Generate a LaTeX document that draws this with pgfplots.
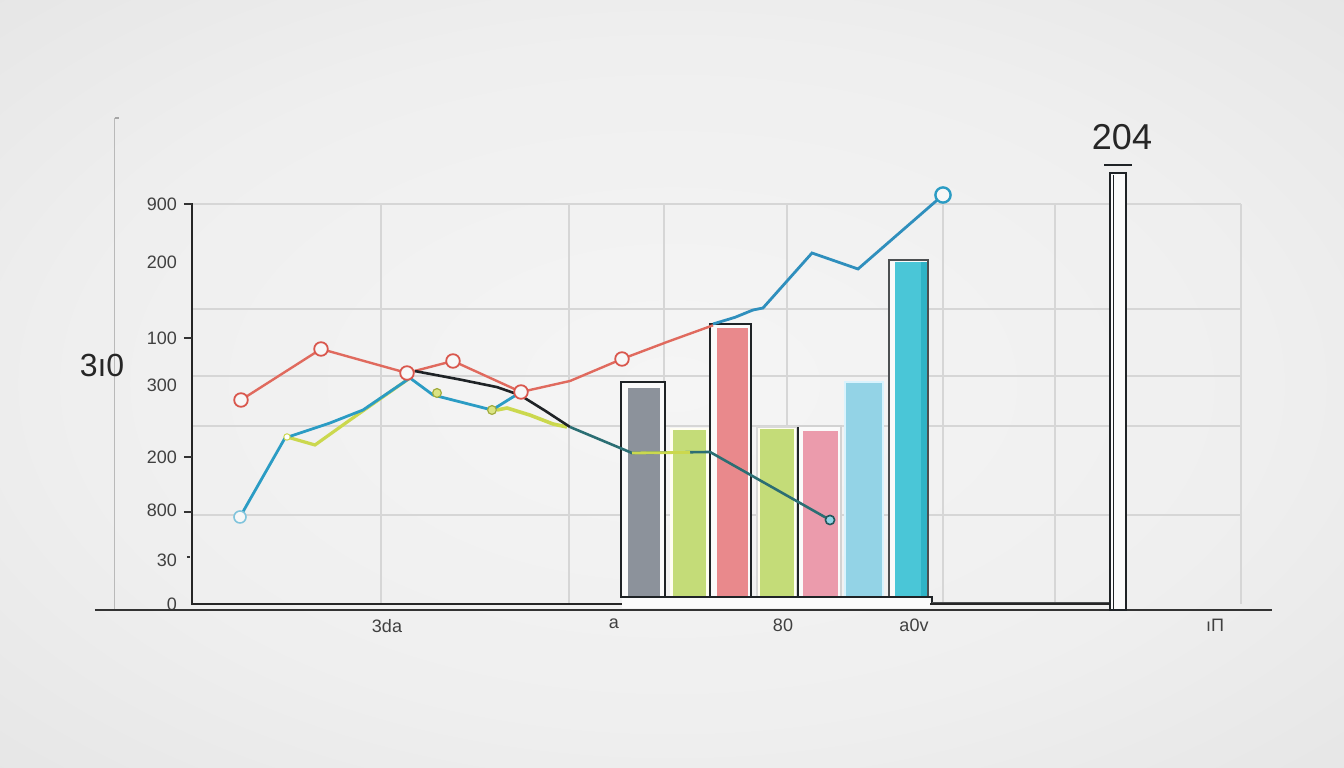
\documentclass[border=0pt]{standalone}
\usepackage{pgfplots}
\pgfplotsset{compat=1.18}
\usepackage{fontspec}
\setmainfont{Liberation Sans}
\definecolor{bgin}{HTML}{F5F5F5}
\definecolor{bgmid}{HTML}{EFEFEF}
\definecolor{bgout}{HTML}{DDDDDD}
\definecolor{bgcorner}{HTML}{D0D0D0}
\definecolor{gridc}{HTML}{D6D6D6}
\definecolor{redl}{HTML}{E06A5E}
\definecolor{redm}{HTML}{D9574D}
\definecolor{bluel}{HTML}{2B9CC4}
\definecolor{blueu}{HTML}{2F8FBD}
\definecolor{yell}{HTML}{CBD84E}
\definecolor{tealdk}{HTML}{2B6E73}
\definecolor{blk}{HTML}{1F2326}
\definecolor{barGray}{HTML}{8C929B}
\definecolor{barGreen}{HTML}{C4DC78}
\definecolor{barRed}{HTML}{E9898C}
\definecolor{barPink}{HTML}{EB9BAC}
\definecolor{barLblue}{HTML}{93D3E6}
\definecolor{barCyan}{HTML}{4AC6D7}
\definecolor{barCyanDk}{HTML}{2FB3C6}
\pgfdeclareradialshading{vign}{\pgfpoint{0bp}{0bp}}{color(0bp)=(bgin); color(22bp)=(bgmid); color(50bp)=(bgout); color(71bp)=(bgcorner)}
\begin{document}
\begin{tikzpicture}
\begin{axis}[
  set layers,
  scale only axis, width=524pt, height=200pt,
  xmin=192, xmax=1240, ymin=0, ymax=900,
  clip=false,
  axis line style={draw=none},
  xtick={387,614,783,914,1215},
  xticklabels={3da,a,80,a0v,ıΠ},
  ytick={0,99,211.5,330.75,492.75,598.5,769.5,900},
  yticklabels={0,30,800,200,300,100,200,900},
  tick align=outside, ytick pos=left, xtick pos=bottom,
  tick style={draw=none},
  major tick length=4pt,
  ticklabel style={font=\fontsize{9}{10}\selectfont, text=black!75},
  /pgf/number format/assume math mode=true,
]
% background
\begin{pgfonlayer}{axis background}
\shade[shading=vign] (axis cs:0,-369) rectangle (axis cs:1344,1359);
\end{pgfonlayer}
% faint left line
\addplot[gray!55, line width=0.5pt] coordinates {(115,1093.5) (115,-13.5)};
\addplot[gray!70, line width=0.6pt] coordinates {(115,1093.5) (119,1093.5)};
% grid
\addplot[gridc, line width=0.6pt] coordinates {(192,900) (1241,900)};
\addplot[gridc, line width=0.6pt] coordinates {(192,663.75) (1241,663.75)};
\addplot[gridc, line width=0.6pt] coordinates {(192,513) (1241,513)};
\addplot[gridc, line width=0.6pt] coordinates {(192,400.5) (1241,400.5)};
\addplot[gridc, line width=0.6pt] coordinates {(192,200.25) (1241,200.25)};
\addplot[gridc, line width=0.6pt] coordinates {(381,0) (381,900)};
\addplot[gridc, line width=0.6pt] coordinates {(569,0) (569,900)};
\addplot[gridc, line width=0.6pt] coordinates {(664,0) (664,900)};
\addplot[gridc, line width=0.6pt] coordinates {(787,0) (787,900)};
\addplot[gridc, line width=0.6pt] coordinates {(943,0) (943,900)};
\addplot[gridc, line width=0.6pt] coordinates {(1055,0) (1055,900)};
\addplot[gridc, line width=0.6pt] coordinates {(1241,0) (1241,900)};
% axis lines
\addplot[black!85, line width=0.9pt] coordinates {(192,902) (192,0) (1110,0)};
\addplot[black!80, line width=0.8pt] coordinates {(95,-13.5) (1272,-13.5)};
% y tick marks
\addplot[black!80, line width=0.6pt] coordinates {(184,900) (192,900)};
\addplot[black!80, line width=0.6pt] coordinates {(184,598.5) (192,598.5)};
\addplot[black!80, line width=0.6pt] coordinates {(184,330.75) (192,330.75)};
\addplot[black!80, line width=0.6pt] coordinates {(184,207) (192,207)};
\addplot[black!80, line width=0.6pt] coordinates {(187,105.75) (190,105.75)};
% bars
\addplot[fill=white!96!gray, draw=blk, line width=1pt] coordinates {(621,15.75) (621,499.5) (665,499.5) (665,15.75)} -- cycle;
\addplot[fill=barGray, draw=none] coordinates {(628,15.75) (628,486) (660,486) (660,15.75)} -- cycle;
\addplot[fill=white!95!yellow, draw=none] coordinates {(670,15.75) (670,395) (709,395) (709,15.75)} -- cycle;
\addplot[fill=barGreen, draw=none] coordinates {(673,15.75) (673,391.5) (706,391.5) (706,15.75)} -- cycle;
\addplot[fill=white!96!gray, draw=blk, line width=1pt] coordinates {(710,15.75) (710,630) (751,630) (751,15.75)} -- cycle;
\addplot[fill=barRed, draw=none] coordinates {(717,15.75) (717,621) (748,621) (748,15.75)} -- cycle;
\addplot[fill=white!95!yellow, draw=gray!30, line width=0.6pt] coordinates {(757,15.75) (757,398.25) (797,398.25) (797,15.75)} -- cycle;
\addplot[fill=barGreen, draw=none] coordinates {(760,15.75) (760,393.75) (794,393.75) (794,15.75)} -- cycle;
\addplot[fill=white!96!gray, draw=gray!35, line width=0.6pt] coordinates {(798,15.75) (798,400.5) (841,400.5) (841,15.75)} -- cycle;
\addplot[blk, line width=0.8pt] coordinates {(798,15.75) (798,398)};
\addplot[fill=barPink, draw=none] coordinates {(803,15.75) (803,389.25) (838,389.25) (838,15.75)} -- cycle;
\addplot[fill=barLblue, draw=white!85!cyan, line width=0.6pt] coordinates {(845,15.75) (845,499.5) (883,499.5) (883,15.75)} -- cycle;
\addplot[fill=white!96!gray, draw=blk!80, line width=0.9pt] coordinates {(889,15.75) (889,774) (928,774) (928,15.75)} -- cycle;
\addplot[fill=barCyan, draw=none] coordinates {(895,15.75) (895,769.5) (927,769.5) (927,15.75)} -- cycle;
\addplot[fill=barCyanDk, draw=none] coordinates {(921,15.75) (921,769.5) (927,769.5) (927,15.75)} -- cycle;
% base of bars
\addplot[fill=white!97!gray, draw=none] coordinates {(622,15.75) (622,-9) (930,-9) (930,15.75)} -- cycle;
\addplot[blk, line width=1.3pt] coordinates {(620,15.75) (932,15.75) (932,2)};
\addplot[blk!80, line width=0.7pt] coordinates {(932,4) (1110,4)};
% tall thin bar
\addplot[fill=white!97!gray, draw=blk, line width=0.9pt] coordinates {(1110,-13.5) (1110,969.75) (1126,969.75) (1126,-13.5)} -- cycle;
\addplot[blk, line width=0.9pt] coordinates {(1113.5,-13.5) (1113.5,966)};
\addplot[blk, line width=1.3pt] coordinates {(1104,987.75) (1132,987.75)};
% red series
\addplot[redl, line width=1.2pt] coordinates {(241,459) (321,573.75) (407,519.75) (453,546.75) (521,477) (570,501.75) (622,551.25) (667,589.5) (713,627)};
% yellow series
\addplot[yell, line width=1.6pt] coordinates {(287,375.75) (315,357.75) (350,414) (410,508.5)};
\addplot[yell, line width=1.8pt] coordinates {(497,436.5) (507,441) (530,425) (553,405) (567,398.25)};
% blue lower series
\addplot[bluel, line width=1.4pt] coordinates {(240,195.75) (285,373.5) (330,407.25) (363,436.5) (410,508.5) (433,470.25) (492,436.5) (521,477)};
% black series
\addplot[blk, line width=1.3pt] coordinates {(415,524) (460,505) (497,488) (520,470) (545,435) (570,398.25)};
\addplot[tealdk, line width=1.3pt] coordinates {(570,398.25) (632,339.75) (710,342) (830,189)};
\addplot[yell, line width=1.4pt] coordinates {(632,339.75) (690,341)};
% blue upper series
\addplot[blueu, line width=1.4pt] coordinates {(713,630) (735,645) (753,661.5) (763,666) (812,789.75) (858,753.75) (943,920.25)};
% markers
\addplot[only marks, mark=*, mark size=3.4pt, mark options={draw=redm, fill=white!94!gray, line width=0.9pt}] coordinates {(241,459) (321,573.75) (407,519.75) (453,546.75) (521,477) (622,551.25)};
\addplot[only marks, mark=*, mark size=3pt, mark options={draw=bluel!60, fill=white!94!gray, line width=0.8pt}] coordinates {(240,195.75)};
\addplot[only marks, mark=*, mark size=2.2pt, mark options={draw=yell!80!black, fill=yell!70, line width=0.6pt}] coordinates {(437,474.75) (492,436.5)};
\addplot[only marks, mark=*, mark size=1.6pt, mark options={draw=yell, fill=white, line width=0.5pt}] coordinates {(287,375.75)};
\addplot[only marks, mark=*, mark size=2.3pt, mark options={draw=tealdk!80!black, fill=barLblue, line width=0.8pt}] coordinates {(830,189)};
\addplot[only marks, mark=*, mark size=3.8pt, mark options={draw=bluel, fill=white!94!gray, line width=1.2pt}] coordinates {(943,920.25)};
% labels
\node[font=\fontsize{16}{18}\selectfont, text=black!85] at (axis cs:102,537.75) {3ı0};
\node[font=\fontsize{18}{20}\selectfont, text=black!85] at (axis cs:1122,1050.75) {204};
\end{axis}
\end{tikzpicture}
\end{document}
